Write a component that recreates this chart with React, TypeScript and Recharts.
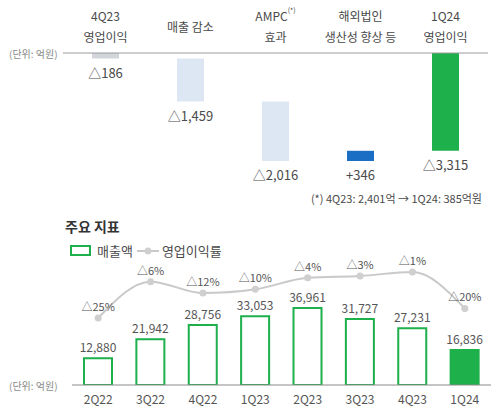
import { BarChart, Bar, XAxis, YAxis, LabelList, ComposedChart, Line, Cell } from 'recharts';

const FONT = '"Noto Sans CJK KR", "Noto Sans", sans-serif';
const GREEN = '#1DB04B';
const TEXT = '#4a4a4a';

// 영업이익 증감 브리지 (억원)
const bridgeLabels = [['4Q23', '영업이익'], ['매출 감소'], ['AMPC', '효과'], ['해외법인', '생산성 향상 등'], ['1Q24', '영업이익']];
const bridgeKinds = ['total', 'delta', 'delta', 'delta', 'total'];
const bridgeValues = [-186, -1459, -2016, 346, -3315];
const bridgeTexts = ['△186', '△1,459', '△2,016', '+346', '△3,315'];
const bridgeColors = ['#d2d5da', '#dce7f3', '#dce7f3', '#1a6ec3', GREEN];

// 주요 지표
const quarters = ['2Q22', '3Q22', '4Q22', '1Q23', '2Q23', '3Q23', '4Q23', '1Q24'];
const sales = [12880, 21942, 28756, 33053, 36961, 31727, 27231, 16836];
const opMargin = [-25, -6, -12, -10, -4, -3, -1, -20];

let running = 0;
const bridgeData = bridgeLabels.map((lines, i) => {
  let range: [number, number];
  if (bridgeKinds[i] === 'total') {
    range = [bridgeValues[i], 0];
    running = bridgeValues[i];
  } else {
    range = [running, running + bridgeValues[i]];
    running += bridgeValues[i];
  }
  return { name: lines.join('\n'), lines, range, text: bridgeTexts[i] };
});

const kpiData = quarters.map((q, i) => ({ q, sales: sales[i], margin: opMargin[i] }));

function BridgeTick({ x, payload }: any) {
  const lines: string[] = payload.value.split('\n');
  if (lines.length === 1) {
    return (
      <text x={x} y={26} textAnchor="middle" dominantBaseline="central" fontSize={12} fill={TEXT} fontFamily={FONT}>
        {lines[0]}
      </text>
    );
  }
  return (
    <g>
      <text x={x} y={15} textAnchor="middle" dominantBaseline="central" fontSize={12} fill={TEXT} fontFamily={FONT}>
        {lines[0]}
        {lines[0] === 'AMPC' && (
          <tspan fontSize={7} dy={-5}>(*)</tspan>
        )}
      </text>
      <text x={x} y={36} textAnchor="middle" dominantBaseline="central" fontSize={12} fill={TEXT} fontFamily={FONT}>
        {lines[1]}
      </text>
    </g>
  );
}

function BridgeLabel({ x, y, width, height, value }: any) {
  const bottom = Math.max(y, y + height);
  return (
    <text x={x + width / 2} y={bottom + 14} textAnchor="middle" dominantBaseline="central" fontSize={13} fill={TEXT} fontFamily={FONT}>
      {value}
    </text>
  );
}

export default function App() {
  return (
    <div style={{ position: 'relative', width: 500, height: 415, fontFamily: FONT, background: '#fff' }}>
      <style>{'body{margin:0}'}</style>

      <div style={{ position: 'absolute', left: 9, top: 46, fontSize: 10, color: '#8a8a8a' }}>(단위: 억원)</div>
      <div style={{ position: 'absolute', position: 'absolute', left: 0, top: 0 } as any}>
        <BarChart width={500} height={205} data={bridgeData} margin={{ top: 0, right: 12, left: 63, bottom: 34 }}>
          <XAxis
            dataKey="name"
            orientation="top"
            height={53}
            axisLine={{ stroke: '#9a9a9a' }}
            tickLine={false}
            interval={0}
            tick={<BridgeTick />}
          />
          <YAxis hide domain={[-4000, 0]} allowDataOverflow />
          <Bar dataKey="range" barSize={27} isAnimationActive={false}>
            {bridgeData.map((d, i) => (
              <Cell key={d.name} fill={bridgeColors[i]} />
            ))}
            <LabelList dataKey="text" content={<BridgeLabel />} />
          </Bar>
        </BarChart>
      </div>
      <div style={{ position: 'absolute', right: 18, top: 190, fontSize: 11, color: TEXT }}>
        (*) 4Q23: 2,401억 → 1Q24: 385억원
      </div>

      <div style={{ position: 'absolute', left: 65, top: 216, fontSize: 14, fontWeight: 700, color: '#333' }}>주요 지표</div>
      <div style={{ position: 'absolute', left: 70, top: 241, display: 'flex', alignItems: 'center', fontSize: 13, color: TEXT }}>
        <span style={{ display: 'inline-block', width: 17, height: 7, border: `2px solid ${GREEN}` }} />
        <span style={{ marginLeft: 6 }}>매출액</span>
        <svg width={22} height={10} style={{ marginLeft: 4 }}>
          <line x1={0} y1={5} x2={22} y2={5} stroke="#c9c9c9" strokeWidth={2} />
          <circle cx={11} cy={5} r={3.5} fill="#cfcfcf" />
        </svg>
        <span style={{ marginLeft: 3 }}>영업이익률</span>
      </div>
      <div style={{ position: 'absolute', left: 9, top: 378, fontSize: 10, color: '#8a8a8a' }}>(단위: 억원)</div>

      <div style={{ position: 'absolute', left: 0, top: 230 }}>
        <ComposedChart width={500} height={185} data={kpiData} margin={{ top: 30, right: 9, left: 72, bottom: 0 }}>
          <XAxis
            dataKey="q"
            height={30}
            axisLine={{ stroke: '#8a8a8a' }}
            tickLine={false}
            tickMargin={4}
            interval={0}
            tick={{ fontSize: 12, fill: '#555', fontFamily: FONT }}
          />
          <YAxis yAxisId="bar" hide domain={[0, 60000]} allowDataOverflow />
          <YAxis yAxisId="pct" hide domain={[-60, 5.3]} allowDataOverflow />
          <Bar yAxisId="bar" dataKey="sales" barSize={28} fill="#fff" stroke={GREEN} strokeWidth={2} isAnimationActive={false}>
            {kpiData.map((d, i) => (
              <Cell key={d.q} fill={i === kpiData.length - 1 ? GREEN : '#fff'} />
            ))}
            <LabelList
              dataKey="sales"
              position="top"
              offset={6}
              fontSize={12}
              fill="#555"
              fontFamily={FONT}
              formatter={(v: any) => Number(v).toLocaleString('en-US')}
            />
          </Bar>
          <Line
            yAxisId="pct"
            dataKey="margin"
            type="monotone"
            stroke="#c9c9c9"
            strokeWidth={2}
            dot={{ r: 3.5, fill: '#cfcfcf', stroke: 'none' }}
            isAnimationActive={false}
          >
            <LabelList
              dataKey="margin"
              position="top"
              offset={7}
              fontSize={11}
              fill="#555"
              fontFamily={FONT}
              formatter={(v: any) => `△${Math.abs(Number(v))}%`}
            />
          </Line>
        </ComposedChart>
      </div>
    </div>
  );
}
